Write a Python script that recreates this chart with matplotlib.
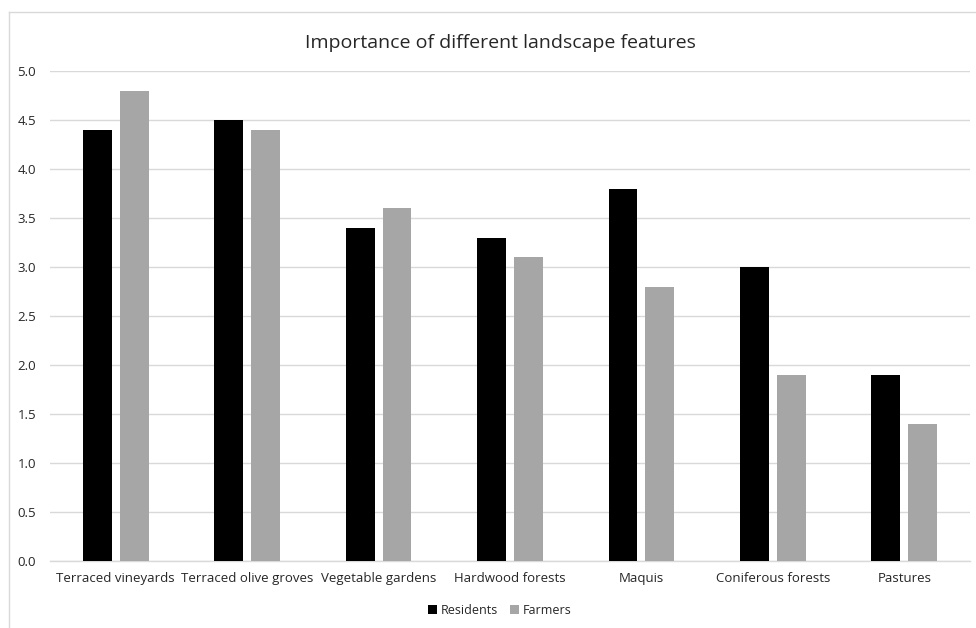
import matplotlib
matplotlib.use("Agg")
import matplotlib.pyplot as plt
import numpy as np
from matplotlib.lines import Line2D

categories = ["Terraced vineyards", "Terraced olive groves", "Vegetable gardens",
              "Hardwood forests", "Maquis", "Coniferous forests", "Pastures"]
residents = [4.4, 4.5, 3.4, 3.3, 3.8, 3.0, 1.9]
farmers = [4.8, 4.4, 3.6, 3.1, 2.8, 1.9, 1.4]
yticks = [0.0, 0.5, 1.0, 1.5, 2.0, 2.5, 3.0, 3.5, 4.0, 4.5, 5.0]

plt.rcParams['font.family'] = ['Open Sans', 'DejaVu Sans']

fig = plt.figure(figsize=(9.76, 6.28), dpi=100)
# outer frame: only top and left edges visible
fig.lines.append(Line2D([8.5/976, 1.0], [1-11.5/628, 1-11.5/628], transform=fig.transFigure,
                        color="#d9d9d9", linewidth=1))
fig.lines.append(Line2D([8.5/976, 8.5/976], [0.0, 1-11.5/628], transform=fig.transFigure,
                        color="#d9d9d9", linewidth=1))
ax = fig.add_axes([50/976, 1-561/628, 920/976, 490/628])

x = np.arange(len(categories))
w = 0.22
gap = 0.06
ax.bar(x - (w + gap)/2, residents, width=w, color="black", label="Residents", zorder=3)
ax.bar(x + (w + gap)/2, farmers, width=w, color="#a6a6a6", label="Farmers", zorder=3)

ax.set_xlim(-0.5, len(categories) - 0.5)
ax.set_ylim(0, 5.0)
ax.set_yticks(yticks)
ax.set_yticklabels([f"{v:.1f}" for v in yticks])
ax.set_xticks(x)
ax.set_xticklabels(categories)
ax.tick_params(axis='both', length=0, labelsize=9.5, colors="#262626")
ax.tick_params(axis='x', pad=8)
ax.tick_params(axis='y', pad=10)
ax.grid(axis='y', color="#d9d9d9", linewidth=1, zorder=0)
for s in ["top", "right", "left"]:
    ax.spines[s].set_visible(False)
ax.spines["bottom"].set_color("#d9d9d9")
ax.spines["bottom"].set_linewidth(1)

fig.text(500/976, 1-43/628, "Importance of different landscape features", ha="center", va="center",
         fontsize=14, color="#262626")

fig.legend(loc="center", bbox_to_anchor=(500/976, 1-610/628), ncol=2, frameon=False,
           fontsize=9, handlelength=0.7, handleheight=0.7, handletextpad=0.3, columnspacing=1.0,
           labelcolor="#262626")

fig.savefig("out.png", dpi=100)
